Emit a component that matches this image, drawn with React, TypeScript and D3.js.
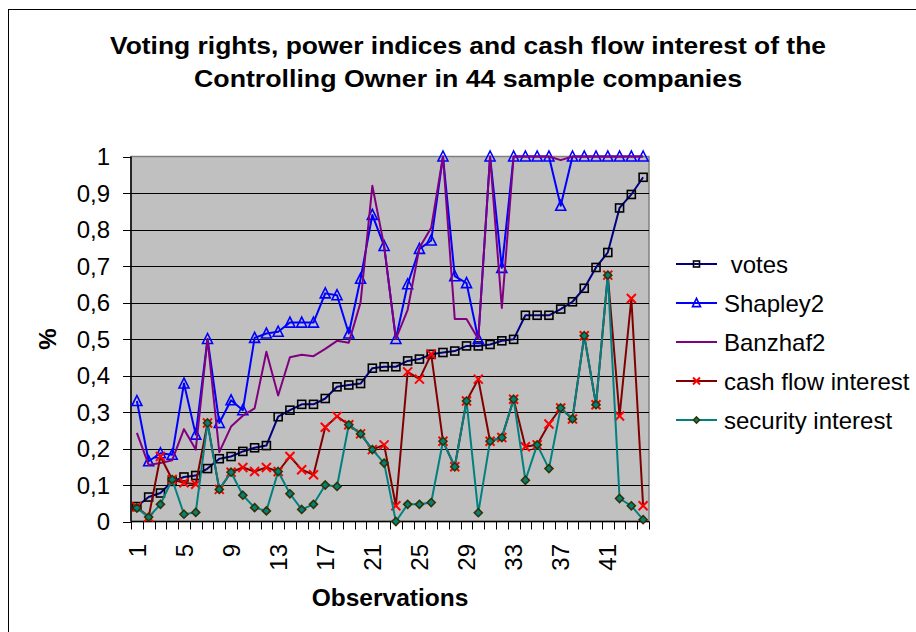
import React from "react";
import * as d3 from "d3";

const observations: number[] = Array.from({ length: 44 }, (_, i) => i + 1);
const tickObs: number[] = [1, 5, 9, 13, 17, 21, 25, 29, 33, 37, 41];
const yTicks: number[] = [0, 0.1, 0.2, 0.3, 0.4, 0.5, 0.6, 0.7, 0.8, 0.9, 1];

const votes: number[] = [
  0.041, 0.067, 0.078, 0.11, 0.122, 0.126, 0.145, 0.172, 0.178, 0.192, 0.202,
  0.208, 0.287, 0.305, 0.321, 0.321, 0.337, 0.369, 0.374, 0.378, 0.42, 0.424,
  0.424, 0.44, 0.445, 0.458, 0.463, 0.467, 0.481, 0.481, 0.485, 0.495, 0.499,
  0.565, 0.565, 0.565, 0.582, 0.602, 0.639, 0.696, 0.737, 0.859, 0.896, 0.943,
];
const shapley2: number[] = [
  0.33, 0.165, 0.187, 0.183, 0.378, 0.238, 0.5, 0.27, 0.332, 0.305, 0.503,
  0.515, 0.52, 0.545, 0.545, 0.545, 0.625, 0.62, 0.515, 0.665, 0.84, 0.755,
  0.5, 0.65, 0.747, 0.77, 1, 0.672, 0.653, 0.5, 1, 0.695, 1,
  1, 1, 1, 0.865, 1, 1, 1, 1, 1, 1, 1,
];
const banzhaf2: number[] = [
  0.243, 0.155, 0.16, 0.168, 0.253, 0.197, 0.5, 0.19, 0.26, 0.29, 0.31,
  0.465, 0.345, 0.45, 0.457, 0.453, 0.473, 0.495, 0.49, 0.6, 0.92, 0.755,
  0.5, 0.58, 0.75, 0.805, 1, 0.555, 0.555, 0.5, 1, 0.585, 1,
  1, 1, 1, 0.99, 1, 1, 1, 1, 1, 1, 1,
];
const cashFlow: number[] = [
  0.04, 0.012, 0.178, 0.115, 0.106, 0.102, 0.27, 0.088, 0.135, 0.148, 0.137,
  0.148, 0.137, 0.178, 0.142, 0.128, 0.258, 0.288, 0.265, 0.24, 0.197, 0.21,
  0.043, 0.41, 0.39, 0.458, 0.22, 0.15, 0.33, 0.39, 0.22, 0.23, 0.335,
  0.205, 0.21, 0.267, 0.311, 0.281, 0.509, 0.32, 0.675, 0.289, 0.611, 0.043,
];
const security: number[] = [
  0.037, 0.012, 0.047, 0.115, 0.02, 0.025, 0.27, 0.088, 0.135, 0.072, 0.038,
  0.029, 0.137, 0.076, 0.033, 0.047, 0.1, 0.096, 0.265, 0.24, 0.197, 0.16,
  0.0, 0.047, 0.047, 0.052, 0.22, 0.15, 0.33, 0.024, 0.22, 0.23, 0.335,
  0.113, 0.21, 0.145, 0.311, 0.281, 0.509, 0.32, 0.675, 0.063, 0.043, 0.005,
];

type Marker = "square" | "triangle" | "none" | "x" | "diamond";
const seriesNames: string[] = [" votes", "Shapley2", "Banzhaf2", "cash flow interest", "security interest"];
const seriesData: number[][] = [votes, shapley2, banzhaf2, cashFlow, security];
const seriesLine: string[] = ["#000080", "#0000FF", "#800080", "#800000", "#008080"];
const seriesMarker: Marker[] = ["square", "triangle", "none", "x", "diamond"];

const FONT = "'Liberation Sans', Arial, sans-serif";

function MarkerShape({ type, cx, cy, s }: { type: Marker; cx: number; cy: number; s: number }) {
  if (type === "square") {
    return <rect x={cx - s / 2} y={cy - s / 2} width={s} height={s} fill="none" stroke="#000" strokeWidth={1.6} />;
  }
  if (type === "triangle") {
    const h = s * 0.9;
    const p = `${cx},${cy - h / 2 - 1} ${cx - s / 2},${cy + h / 2} ${cx + s / 2},${cy + h / 2}`;
    return <polygon points={p} fill="none" stroke="#0000FF" strokeWidth={1.6} />;
  }
  if (type === "x") {
    const r = s / 2;
    return (
      <path
        d={`M${cx - r},${cy - r}L${cx + r},${cy + r}M${cx - r},${cy + r}L${cx + r},${cy - r}`}
        stroke="#FF0000"
        strokeWidth={2}
        fill="none"
      />
    );
  }
  if (type === "diamond") {
    const r = s / 2;
    return (
      <polygon
        points={`${cx},${cy - r} ${cx + r},${cy} ${cx},${cy + r} ${cx - r},${cy}`}
        fill="#008080"
        stroke="#333300"
        strokeWidth={1.6}
      />
    );
  }
  return null;
}

export default function App() {
  const W = 916;
  const H = 632;
  const left = 131;
  const right = 649;
  const top = 156.5;
  const bottom = 521.5;

  const x = d3.scaleBand<number>().domain(observations).range([left, right]).padding(0);
  const xc = (o: number) => (x(o) as number) + x.bandwidth() / 2;
  const y = d3.scaleLinear().domain([0, 1]).range([bottom, top]);
  const fmt = (v: number) => (v === 0 || v === 1 ? String(v) : d3.format(".1f")(v).replace(".", ","));

  const line = d3
    .line<number>()
    .x((_, i) => xc(observations[i]))
    .y((d) => y(d));

  const boundaries = observations.map((o) => x(o) as number).concat([right]);

  const legendX1 = 676;
  const legendX2 = 717;
  const legendY = [264, 303, 342, 381, 420];
  const markerSize: Record<Marker, number> = { square: 8, triangle: 10, none: 0, x: 9, diamond: 8 };
  const legendMarkerSize: Record<Marker, number> = { square: 6, triangle: 8, none: 0, x: 7, diamond: 6 };

  return (
    <svg
      width={W}
      height={H}
      style={{ position: "absolute", left: 0, top: 0, background: "#fff" }}
      fontFamily={FONT}
    >
      <rect x={0} y={0} width={W} height={H} fill="#fff" />
      <rect x={8.5} y={9.5} width={W + 10} height={H + 10} fill="none" stroke="#000" strokeWidth={1} />

      {/* Title */}
      <text x={468} y={54} textAnchor="middle" fontWeight="bold" fontSize={23.5} textLength={716} lengthAdjust="spacingAndGlyphs">
        Voting rights, power indices and cash flow interest of the
      </text>
      <text x={468} y={87} textAnchor="middle" fontWeight="bold" fontSize={23.5} textLength={548} lengthAdjust="spacingAndGlyphs">
        Controlling Owner in 44 sample companies
      </text>

      {/* Plot area */}
      <rect x={left} y={top} width={right - left} height={bottom - top} fill="#C0C0C0" stroke="#808080" strokeWidth={1.5} />
      {yTicks.slice(1, -1).map((t) => (
        <line key={t} x1={left} x2={right} y1={Math.round(y(t)) + 0.5} y2={Math.round(y(t)) + 0.5} stroke="#000" strokeWidth={1} />
      ))}

      {/* Y axis */}
      <line x1={left} x2={left} y1={top} y2={bottom} stroke="#000" strokeWidth={1.5} />
      {yTicks.map((t) => (
        <g key={t}>
          <line x1={left - 8} x2={left} y1={Math.round(y(t)) + 0.5} y2={Math.round(y(t)) + 0.5} stroke="#000" strokeWidth={1} />
          <text x={110} y={y(t)} dy="0.36em" textAnchor="end" fontSize={24} fill="#000">
            {fmt(t)}
          </text>
        </g>
      ))}
      <text transform="translate(48,339) rotate(-90)" textAnchor="middle" dy="0.35em" fontWeight="bold" fontSize={24}>
        %
      </text>

      {/* X axis */}
      <line x1={left} x2={right} y1={bottom} y2={bottom} stroke="#000" strokeWidth={1.5} />
      {boundaries.map((b, i) => (
        <line key={i} x1={Math.round(b) + 0.5} x2={Math.round(b) + 0.5} y1={bottom} y2={bottom + 8} stroke="#000" strokeWidth={1} />
      ))}
      {tickObs.map((o) => (
        <text
          key={o}
          transform={`translate(${xc(o)},544) rotate(-90)`}
          dy="0.36em"
          textAnchor="end"
          fontSize={24}
        >
          {o}
        </text>
      ))}
      <text x={390} y={606} textAnchor="middle" fontWeight="bold" fontSize={24.5}>
        Observations
      </text>

      {/* Series */}
      {seriesData.map((data, si) => (
        <g key={si}>
          <path d={line(data) || ""} fill="none" stroke={seriesLine[si]} strokeWidth={2} strokeLinejoin="round" />
          {seriesMarker[si] !== "none" &&
            data.map((v, i) => (
              <MarkerShape key={i} type={seriesMarker[si]} cx={xc(observations[i])} cy={y(v)} s={markerSize[seriesMarker[si]]} />
            ))}
        </g>
      ))}

      {/* Legend */}
      {seriesNames.map((name, si) => (
        <g key={name}>
          <line x1={legendX1} x2={legendX2} y1={legendY[si]} y2={legendY[si]} stroke={seriesLine[si]} strokeWidth={2} />
          <MarkerShape
            type={seriesMarker[si]}
            cx={(legendX1 + legendX2) / 2}
            cy={legendY[si]}
            s={legendMarkerSize[seriesMarker[si]]}
          />
          <text x={724} y={legendY[si]} dy="0.36em" fontSize={24} style={{ whiteSpace: "pre" }}>
            {name}
          </text>
        </g>
      ))}
    </svg>
  );
}
